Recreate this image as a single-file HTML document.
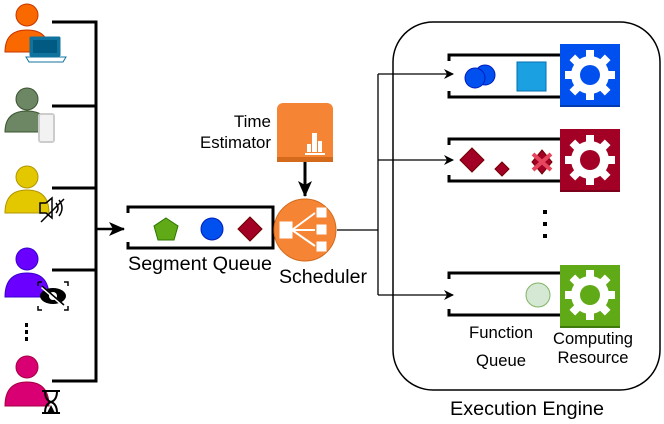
<!DOCTYPE html>
<html><head><style>body{margin:0;background:#fff}svg{display:block}text{font-family:"Liberation Sans",Arial,Helvetica,sans-serif;fill:#000}</style></head><body>
<svg width="664" height="424" viewBox="0 0 664 424" xmlns="http://www.w3.org/2000/svg" font-family="Liberation Sans, Arial, sans-serif">
<defs>
<marker id="ah" markerWidth="10" markerHeight="10" refX="9" refY="5" orient="auto" markerUnits="userSpaceOnUse"><path d="M0,0 L10,5 L0,10 L3,5 Z" fill="#000"/></marker>
<marker id="ahb" markerWidth="16" markerHeight="14" refX="15" refY="7" orient="auto" markerUnits="userSpaceOnUse"><path d="M0,0 L16,7 L0,14 L4,7 Z" fill="#000"/></marker>
<g id="gear"><circle cx="0" cy="0" r="19" fill="#fff"/><g fill="#fff"><rect x="-4" y="-25" width="8" height="10"/><rect x="-4" y="15" width="8" height="10"/><rect x="-25" y="-4" width="10" height="8"/><rect x="15" y="-4" width="10" height="8"/><g transform="rotate(45)"><rect x="-4" y="-25" width="8" height="10"/><rect x="-4" y="15" width="8" height="10"/><rect x="-25" y="-4" width="10" height="8"/><rect x="15" y="-4" width="10" height="8"/></g></g></g>
</defs>
<g stroke-width="1">
<g fill="#fa6800" stroke="#c73500"><circle cx="27" cy="15" r="11"/><path d="M5,52 Q5,30 27,30 Q49,30 49,52 Z"/></g>
<rect x="30" y="37" width="30" height="19" fill="#10739e" stroke="#10739e" rx="1"/><rect x="33" y="40" width="24" height="13" fill="#005a82"/><path d="M26,57 L66,57 L63,62 L29,62 Z" fill="#fff" stroke="#10739e"/>
<g fill="#6d8764" stroke="#3a5431"><circle cx="27" cy="99" r="11"/><path d="M5,132 Q5,111 27,111 Q49,111 49,132 Z"/></g>
<rect x="39" y="114" width="15" height="28" rx="2" fill="#f2f2f2" stroke="#ccc" stroke-width="2"/>
<g fill="#e3c800" stroke="#b09500"><circle cx="27" cy="177" r="11"/><path d="M5,213 Q5,190 27,190 Q49,190 49,213 Z"/></g>
<path d="M40,203 L46,203 L52,198 L52,218 L46,213 L40,213 Z" fill="none" stroke="#000" stroke-width="1.5"/><line x1="41" y1="222" x2="64" y2="199" stroke="#000" stroke-width="1.5"/><path d="M56,203 Q60,208 56,213 M59,200 Q65,208 59,216" fill="none" stroke="#000" stroke-width="1.5"/>
<g fill="#6a00ff" stroke="#3700cc"><circle cx="27" cy="259" r="11"/><path d="M5,297 Q5,273 27,273 Q49,273 49,297 Z"/></g>
<path d="M38,282 L38,286 M38,306 L38,310 L42,310 M64,282 L68,282 L68,286 M68,306 L68,310 L64,310 M38,282 L42,282" stroke="#000" stroke-width="1.5" fill="none"/>
<ellipse cx="53" cy="296" rx="13" ry="8" fill="#000"/><circle cx="53" cy="296" r="4" fill="#fff"/><line x1="42" y1="287" x2="64" y2="306" stroke="#fff" stroke-width="3"/><line x1="42" y1="286" x2="64" y2="305" stroke="#000" stroke-width="1.5"/>
<g fill="#d80073" stroke="#a50040"><circle cx="27" cy="367" r="11"/><path d="M5,406 Q5,382 27,382 Q49,382 49,406 Z"/></g>
<path d="M42,391 L60,391 M42,413 L60,413 M45,391 Q45,400 51,402 Q57,400 57,391 M45,413 Q45,404 51,402 Q57,404 57,413" stroke="#000" stroke-width="2" fill="none"/><path d="M47,413 L51,405 L55,413 Z" fill="#000"/>
</g>
<rect x="25" y="323" width="3" height="4" fill="#000"/><rect x="25" y="330" width="3" height="4" fill="#000"/><rect x="25" y="337" width="3" height="4" fill="#000"/>
<g stroke="#000" stroke-width="3" fill="none">
<path d="M52,22 L96,22 L96,381 L52,381"/><path d="M52,106 L96,106 M52,188 L96,188 M52,270 L96,270"/>
</g>
<line x1="96" y1="229" x2="124" y2="229" stroke="#000" stroke-width="2.5" marker-end="url(#ahb)"/>
<path d="M128,213 L128,207 L273,207 L273,248 L128,248 L128,242" stroke="#000" stroke-width="3" fill="none"/>
<polygon points="166,218 178,226 174,240 158,240 154,226" fill="#60a917" stroke="#2d7600"/>
<circle cx="212" cy="229" r="11" fill="#0050ef" stroke="#001dbc"/>
<polygon points="250,217 262,229 250,241 238,229" fill="#a20025" stroke="#6f0000"/>
<text x="200" y="270" font-size="19.5" text-anchor="middle" textLength="144" lengthAdjust="spacingAndGlyphs">Segment Queue</text>
<rect x="277" y="103" width="56" height="59" rx="6" fill="#f58534"/><rect x="277" y="157" width="56" height="5" fill="#d36a1c"/>
<g fill="#fff"><rect x="307" y="144" width="4" height="8"/><rect x="312" y="133" width="5" height="19"/><rect x="318" y="141" width="4" height="11"/><rect x="305" y="153" width="20" height="2"/></g>
<text x="271" y="127" font-size="17" text-anchor="end">Time</text>
<text x="271" y="148" font-size="17" text-anchor="end" textLength="71" lengthAdjust="spacingAndGlyphs">Estimator</text>
<line x1="305" y1="162" x2="305" y2="196" stroke="#000" stroke-width="3" marker-end="url(#ahb)"/>
<circle cx="305" cy="230" r="31" fill="#f58534" stroke="#d36a1c"/>
<g fill="#fff" stroke="#fff"><rect x="280" y="222" width="12" height="16"/><rect x="317" y="208" width="9" height="9"/><rect x="317" y="225" width="9" height="9"/><rect x="317" y="242" width="9" height="9"/><path d="M292,230 L315,213 M292,230 L315,230 M292,230 L315,246" stroke-width="2"/></g>
<text x="323" y="283" font-size="19.5" text-anchor="middle" textLength="88" lengthAdjust="spacingAndGlyphs">Scheduler</text>
<path d="M337,230 L378,230 M378,74 L378,295" stroke="#000" stroke-width="1.3" fill="none"/>
<line x1="378" y1="74" x2="453" y2="74" stroke="#000" stroke-width="1.3" marker-end="url(#ah)"/>
<line x1="378" y1="160" x2="453" y2="160" stroke="#000" stroke-width="1.3" marker-end="url(#ah)"/>
<line x1="378" y1="295" x2="453" y2="295" stroke="#000" stroke-width="1.3" marker-end="url(#ah)"/>
<rect x="393" y="22" width="267" height="368" rx="40" fill="none" stroke="#000" stroke-width="1.5"/>
<g stroke="#000" stroke-width="3" fill="none">
<path d="M449,61 L449,55 L560,55 M449,91 L449,97 L560,97"/>
<path d="M449,145 L449,139 L560,139 M449,175 L449,181 L560,181"/>
<path d="M449,279 L449,273 L560,273 M449,309 L449,315 L560,315"/>
</g>
<circle cx="485" cy="75" r="10" fill="#0050ef" stroke="#001dbc"/><circle cx="475" cy="78" r="10" fill="#0050ef" stroke="#001dbc"/>
<rect x="517" y="62" width="29" height="29" fill="#1ba1e2" stroke="#006eaf"/>
<rect x="560" y="44" width="60" height="63" fill="#0050ef"/><rect x="560" y="105" width="60" height="2" fill="#003bb0"/>
<g transform="translate(590,75)"><use href="#gear"/><circle r="10" fill="#0050ef"/></g>
<polygon points="472,148 484,160 472,172 460,160" fill="#a20025" stroke="#6f0000"/>
<polygon points="502,162 509,169 502,176 495,169" fill="#a20025" stroke="#6f0000"/>
<polygon points="542,150 552,162 542,174 532,162" fill="#a20025" stroke="#6f0000"/>
<path d="M533,154 L551,170 M551,154 L533,170" stroke="#e6465e" stroke-width="4"/>
<rect x="560" y="129" width="60" height="63" fill="#a20025"/><rect x="560" y="190" width="60" height="2" fill="#7a001b"/>
<g transform="translate(590,160)"><use href="#gear"/><circle r="10" fill="#a20025"/></g>
<rect x="543" y="210" width="4" height="4" fill="#000"/><rect x="543" y="222" width="4" height="4" fill="#000"/><rect x="543" y="234" width="4" height="4" fill="#000"/>
<circle cx="538" cy="295" r="12" fill="#d5e8d4" stroke="#82b366"/>
<rect x="560" y="265" width="60" height="63" fill="#60a917"/><rect x="560" y="326" width="60" height="2" fill="#3f7a0c"/>
<g transform="translate(590,295)"><use href="#gear"/><circle r="10" fill="#60a917"/></g>
<text x="501" y="338" font-size="16.5" text-anchor="middle" textLength="64" lengthAdjust="spacingAndGlyphs">Function</text>
<text x="501" y="366" font-size="16.5" text-anchor="middle" textLength="50" lengthAdjust="spacingAndGlyphs">Queue</text>
<text x="593" y="344" font-size="16.5" text-anchor="middle" textLength="80" lengthAdjust="spacingAndGlyphs">Computing</text>
<text x="593" y="363" font-size="16.5" text-anchor="middle" textLength="71" lengthAdjust="spacingAndGlyphs">Resource</text>
<text x="527" y="415" font-size="19.5" text-anchor="middle" textLength="154" lengthAdjust="spacingAndGlyphs">Execution Engine</text>
</svg>
</body></html>
